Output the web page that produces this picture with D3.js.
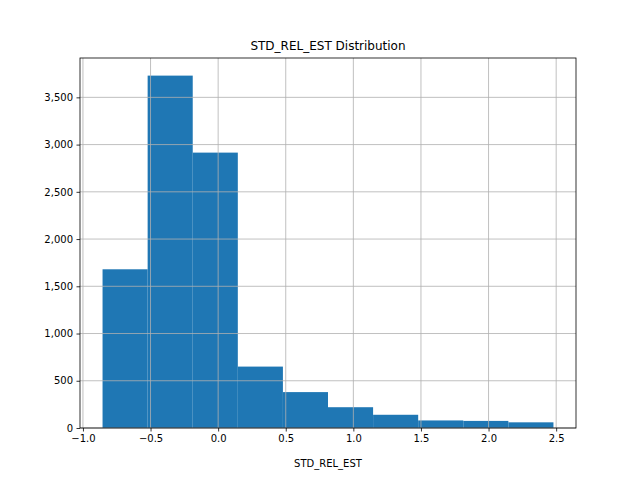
<!DOCTYPE html>
<html><head><meta charset="utf-8">
<script src="https://cdn.jsdelivr.net/npm/d3@7"></script>
<style>body{margin:0;background:#fff}text{font-family:"DejaVu Sans",sans-serif}</style>
</head><body>
<svg id="c" width="640" height="480"></svg>
<script>
const binStart = -0.855, binEnd = 2.48;
const counts = [1680, 3730, 2915, 650, 380, 220, 140, 80, 75, 60];
const xTicks = [-1.0, -0.5, 0.0, 0.5, 1.0, 1.5, 2.0, 2.5];
const yTicks = [0, 500, 1000, 1500, 2000, 2500, 3000, 3500];
const title = "STD_REL_EST Distribution", xLabel = "STD_REL_EST";

const svg = d3.select("#c");
const L=80, R=576, T=58, B=428;
const w=(binEnd-binStart)/counts.length;
const pad=(binEnd-binStart)*0.05;
const x=d3.scaleLinear().domain([binStart-pad, binEnd+pad]).range([L,R]);
const y=d3.scaleLinear().domain([0, d3.max(counts)*1.05]).range([B,T]);

svg.selectAll("rect.bar").data(counts).join("rect")
  .attr("x",(d,i)=>x(binStart+i*w)).attr("width",(d,i)=>x(binStart+(i+1)*w)-x(binStart+i*w))
  .attr("y",d=>y(d)).attr("height",d=>B-y(d)).attr("fill","#1f77b4");

const g=svg.append("g");
xTicks.forEach(t=>g.append("line").attr("x1",x(t)).attr("x2",x(t)).attr("y1",T).attr("y2",B).attr("stroke","#b0b0b0").attr("stroke-width",0.8));
yTicks.forEach(t=>g.append("line").attr("x1",L).attr("x2",R).attr("y1",y(t)).attr("y2",y(t)).attr("stroke","#b0b0b0").attr("stroke-width",0.8));

const xa=svg.append("g").attr("transform",`translate(0,${B})`).call(d3.axisBottom(x).tickValues(xTicks).tickFormat(d3.format(".1f")).tickSize(3.5).tickPadding(3.5));
const ya=svg.append("g").attr("transform",`translate(${L},0)`).call(d3.axisLeft(y).tickValues(yTicks).tickSize(3.5).tickPadding(3.5));
[xa,ya].forEach(a=>{a.select(".domain").remove();a.selectAll("text").attr("font-size",10).attr("fill","#000").attr("font-family","DejaVu Sans");a.selectAll("line").attr("stroke","#000").attr("stroke-width",0.8);});
xa.selectAll("text").text(d=>d.toFixed(1).replace("-","\u2212"));

svg.append("rect").attr("x",L).attr("y",T).attr("width",R-L).attr("height",B-T).attr("fill","none").attr("stroke","#000").attr("stroke-width",0.8);
svg.append("text").attr("x",(L+R)/2).attr("y",T-8).attr("text-anchor","middle").attr("font-size",12).text(title);
svg.append("text").attr("x",(L+R)/2).attr("y",467).attr("text-anchor","middle").attr("font-size",10).text(xLabel);
</script></body></html>
